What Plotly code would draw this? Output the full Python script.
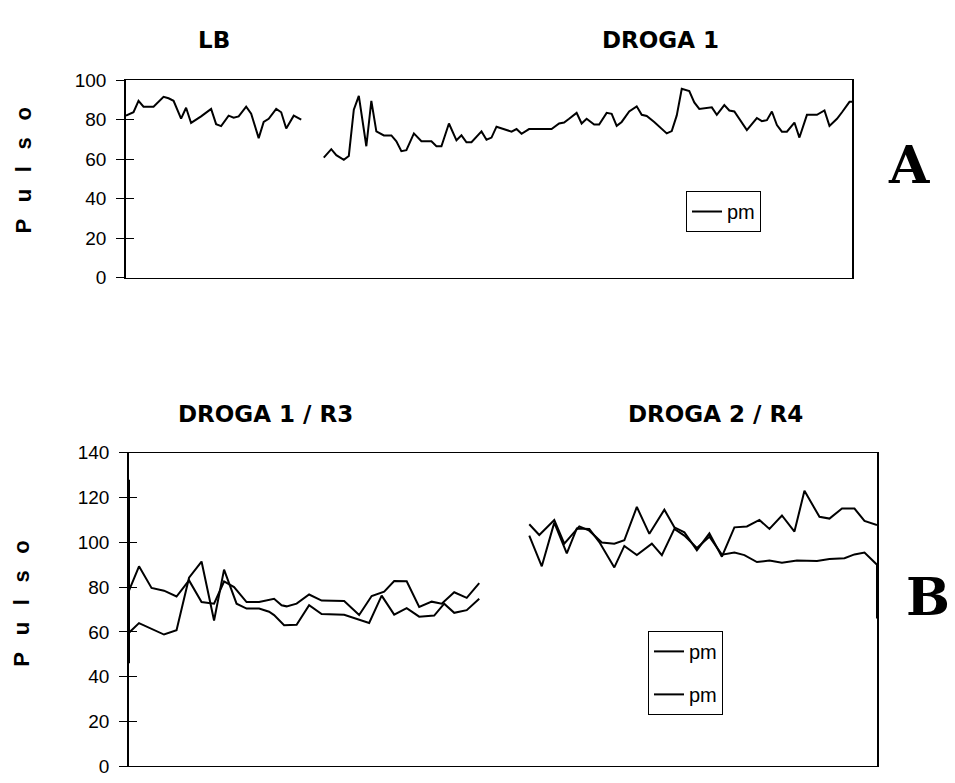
import plotly.graph_objects as go

W, H = 955, 783

# ---------------- Panel A data (time index, pulse) ----------------
lb_t = [0, 3, 5, 7, 11, 15, 17, 19, 22, 24, 26, 30, 34, 36, 38, 41, 43, 45, 48, 50,
        53, 55, 57, 60, 62, 64, 67, 70]
lb_p = [82, 83.7, 89.5, 86.5, 86.5, 91.5, 90.8, 89.5, 80.5, 86, 78.3, 81.6, 85.4, 77.7,
        76.7, 82, 81, 81.6, 86.5, 83, 70.6, 78.8, 80.4, 85.4, 83.7, 75.5, 82, 80]

d1_t = [79, 82, 84, 87, 89, 91, 93, 96, 98, 100, 103, 106, 108, 110, 112, 115, 118, 122,
        124, 126, 129, 132, 134, 136, 138, 142, 144, 146, 148, 151, 154, 156, 158, 161,
        170, 173, 175, 177, 180, 182, 184, 187, 189, 192, 194, 196, 198, 201, 204, 206,
        208, 211, 214, 216, 218, 220, 222, 225, 227, 229, 234, 236, 239, 241, 243, 246,
        248, 252, 254, 256, 258, 260, 262, 264, 267, 269, 272, 276, 279, 281, 284, 286,
        289, 290]
d1_p = [60.7, 65, 62, 59.6, 61.6, 85, 92, 66.5, 89.5, 74, 72, 72, 69, 64, 64.5, 73, 69, 69,
        66.5, 66.5, 78, 69.5, 72, 68.5, 68.5, 74, 69.8, 70.9, 76.4, 75.2, 73.9, 75.2, 72.8,
        75.2, 75.2, 78, 78.5, 80.4, 83.4, 78, 80.4, 77.5, 77.5, 83.4, 82.9, 76.8, 78.8,
        84.1, 86.7, 82.4, 81.8, 78.8, 75.5, 73, 74.2, 82.1, 95.6, 94.4, 88.7, 85.4, 86.2,
        82.4, 87.3, 84.6, 84.1, 78.8, 74.7, 80.8, 79.2, 79.7, 84.1, 77.2, 73.9, 73.9, 78.5,
        70.9, 82.4, 82.4, 84.6, 76.8, 80.4, 83.7, 89, 89]

# ---------------- Panel B data ----------------
# DROGA 1 / R3, series 1 and 2
b1_t = [0, 0, 0, 4, 10, 14, 19, 24, 29, 34, 38, 43, 47, 52, 56, 58, 62, 67, 72, 77,
        86, 92, 96, 101, 106, 111, 116, 122, 126, 130, 135, 140]
b1_p = [128, 46, 59.6, 63.9, 61, 58.8, 60.7, 84.2, 91.4, 65.1, 87.8, 72.6, 70.4, 70.4, 69,
        67.5, 63, 63.2, 71.9, 68, 67.6, 65.3, 64, 76.2, 67.7, 70.6, 66.8, 67.3, 72.6, 68.5,
        69.7, 74.8]
b2_t = [0, 4, 9, 14, 19, 24, 29, 34, 38, 42, 47, 52, 58, 61, 63, 67, 72, 77, 86, 92,
        97, 102, 106, 111, 116, 121, 125, 130, 135, 140]
b2_p = [78.4, 89.3, 79.6, 78.4, 75.8, 83, 73.3, 72.6, 82.5, 80, 73.3, 73.3, 74.8, 71.9,
        71.4, 72.6, 76.7, 74, 73.8, 67.5, 76, 78, 82.7, 82.6, 71.1, 73.5, 72.6, 77.7, 75.2,
        81.8]
# DROGA 2 / R4, series 1 and 2
c2_t = [160, 165, 170, 175, 179, 184, 188, 194, 198, 203, 209, 213, 218, 222, 227, 232,
        237, 242, 246, 251, 256, 261, 267, 275, 280, 286, 290, 294, 299, 299]
c2_p = [103, 89.3, 108.8, 95.1, 106.2, 106, 100.1, 88.8, 98.4, 94.3, 99.4, 94.3, 106, 103,
        97.5, 102.5, 94.5, 95.4, 94.3, 91.2, 91.9, 90.9, 91.9, 91.7, 92.6, 92.9, 94.6, 95.4,
        90, 66]
c1_t = [160, 164, 170, 174, 180, 184, 189, 194, 198, 203, 208, 214, 218, 222, 227, 232,
        237, 242, 247, 252, 256, 261, 266, 270, 276, 280, 285, 290, 294, 299]
c1_p = [108.1, 103.3, 110, 99.4, 107.1, 105.2, 99.9, 99.4, 100.9, 115.8, 103.8, 114.6,
        106.7, 104.5, 96.5, 104, 93.6, 106.7, 107.1, 110, 106, 112, 104.8, 123, 111.4, 110.6,
        115.1, 115.1, 109.6, 107.7]

ticks_a = [0, 20, 40, 60, 80, 100]
ticks_b = [0, 20, 40, 60, 80, 100, 120, 140]
series_name = "pm"


def px_x(p):
    return p / W


def px_y(p):
    return 1 - p / H


fig = go.Figure()
LINE = dict(color="#000000", width=2)

fig.add_trace(go.Scatter(x=lb_t + [None] + d1_t, y=lb_p + [None] + d1_p, mode="lines",
                         line=LINE, name=series_name, xaxis="x", yaxis="y",
                         legend="legend", connectgaps=False))
fig.add_trace(go.Scatter(x=b1_t + [None] + c2_t, y=b1_p + [None] + c2_p, mode="lines",
                         line=LINE, name=series_name, xaxis="x2", yaxis="y2",
                         legend="legend2", legendgroup="g1", connectgaps=False))
fig.add_trace(go.Scatter(x=b2_t + [None] + c1_t, y=b2_p + [None] + c1_p, mode="lines",
                         line=LINE, name=series_name, xaxis="x2", yaxis="y2",
                         legend="legend2", legendgroup="g2", connectgaps=False))
# empty traces to activate inner-tick overlay axes
fig.add_trace(go.Scatter(x=[None], y=[None], xaxis="x", yaxis="y3", showlegend=False))
fig.add_trace(go.Scatter(x=[None], y=[None], xaxis="x2", yaxis="y4", showlegend=False))

tickfont = dict(family="Liberation Sans, Arial", size=19, color="#000")
ax_common = dict(showgrid=False, zeroline=False, showline=True, linecolor="#000",
                 mirror=True)

domA_x = [px_x(126), px_x(852)]
domA_y = [px_y(275), px_y(72)]
domB_x = [px_x(129), px_x(877)]
domB_y = [px_y(777), px_y(455)]

fig.update_layout(
    width=W, height=H, margin=dict(l=0, r=0, t=0, b=0),
    paper_bgcolor="white", plot_bgcolor="white", showlegend=True,
    xaxis=dict(domain=domA_x, range=[0, 290], showticklabels=False, ticks="",
               anchor="y", linewidth=1.3, **ax_common),
    yaxis=dict(domain=domA_y, range=[0, 100], tickvals=ticks_a, ticks="outside",
               ticklen=8, tickwidth=1.3, tickcolor="#000", tickfont=tickfont,
               ticklabelstandoff=6, anchor="x", linewidth=1.6, **ax_common),
    yaxis3=dict(overlaying="y", anchor="x", range=[0, 100], tickvals=ticks_a,
                ticks="inside", ticklen=8, tickwidth=1.3, tickcolor="#000",
                showticklabels=False, showgrid=False, zeroline=False, showline=False),
    xaxis2=dict(domain=domB_x, range=[0, 299], showticklabels=False, ticks="",
                anchor="y2", linewidth=1.3, **ax_common),
    yaxis2=dict(domain=domB_y, range=[0, 140], tickvals=ticks_b, ticks="outside",
                ticklen=8, tickwidth=1.3, tickcolor="#000", tickfont=tickfont,
                ticklabelstandoff=6, anchor="x2", linewidth=1.6, **ax_common),
    yaxis4=dict(overlaying="y2", anchor="x2", range=[0, 140], tickvals=ticks_b,
                ticks="inside", ticklen=8, tickwidth=1.3, tickcolor="#000",
                showticklabels=False, showgrid=False, zeroline=False, showline=False),
    legend=dict(x=px_x(686), y=px_y(186), xanchor="left", yanchor="top",
                bordercolor="#000", borderwidth=1, bgcolor="white",
                font=dict(family="Liberation Sans, Arial", size=20, color="#000")),
    legend2=dict(x=px_x(648), y=px_y(638), xanchor="left", yanchor="top",
                 bordercolor="#000", borderwidth=1, bgcolor="white",
                 traceorder="grouped", tracegroupgap=14,
                 font=dict(family="Liberation Sans, Arial", size=20, color="#000")),
)

title_font = dict(family="DejaVu Sans", size=23, color="#000", weight="bold")
letter_font = dict(family="DejaVu Serif", size=52, color="#000", weight="bold")
ylab_font = dict(family="Liberation Sans, Arial", size=22, color="#000", weight="bold")
sp = "\u00a0\u00a0\u2009"
ylab = sp.join(list("Pulso"))

annots = [
    ("LB", 214, 31, title_font, 0),
    ("DROGA 1", 660, 31, title_font, 0),
    ("DROGA 1 / R3", 265, 415, title_font, 0),
    ("DROGA 2 / R4", 715, 415, title_font, 0),
    ("A", 909, 159, letter_font, 0),
    ("B", 928, 603, letter_font, 0),
    (ylab, 24, 165, ylab_font, -90),
    (ylab, 22, 610, ylab_font, -90),
]
for text, x, y, f, ang in annots:
    fig.add_annotation(text=text, x=px_x(x), y=px_y(y), xref="paper", yref="paper",
                       xanchor="center", yanchor="middle", showarrow=False, font=f,
                       textangle=ang)

fig.write_html("out.html")
